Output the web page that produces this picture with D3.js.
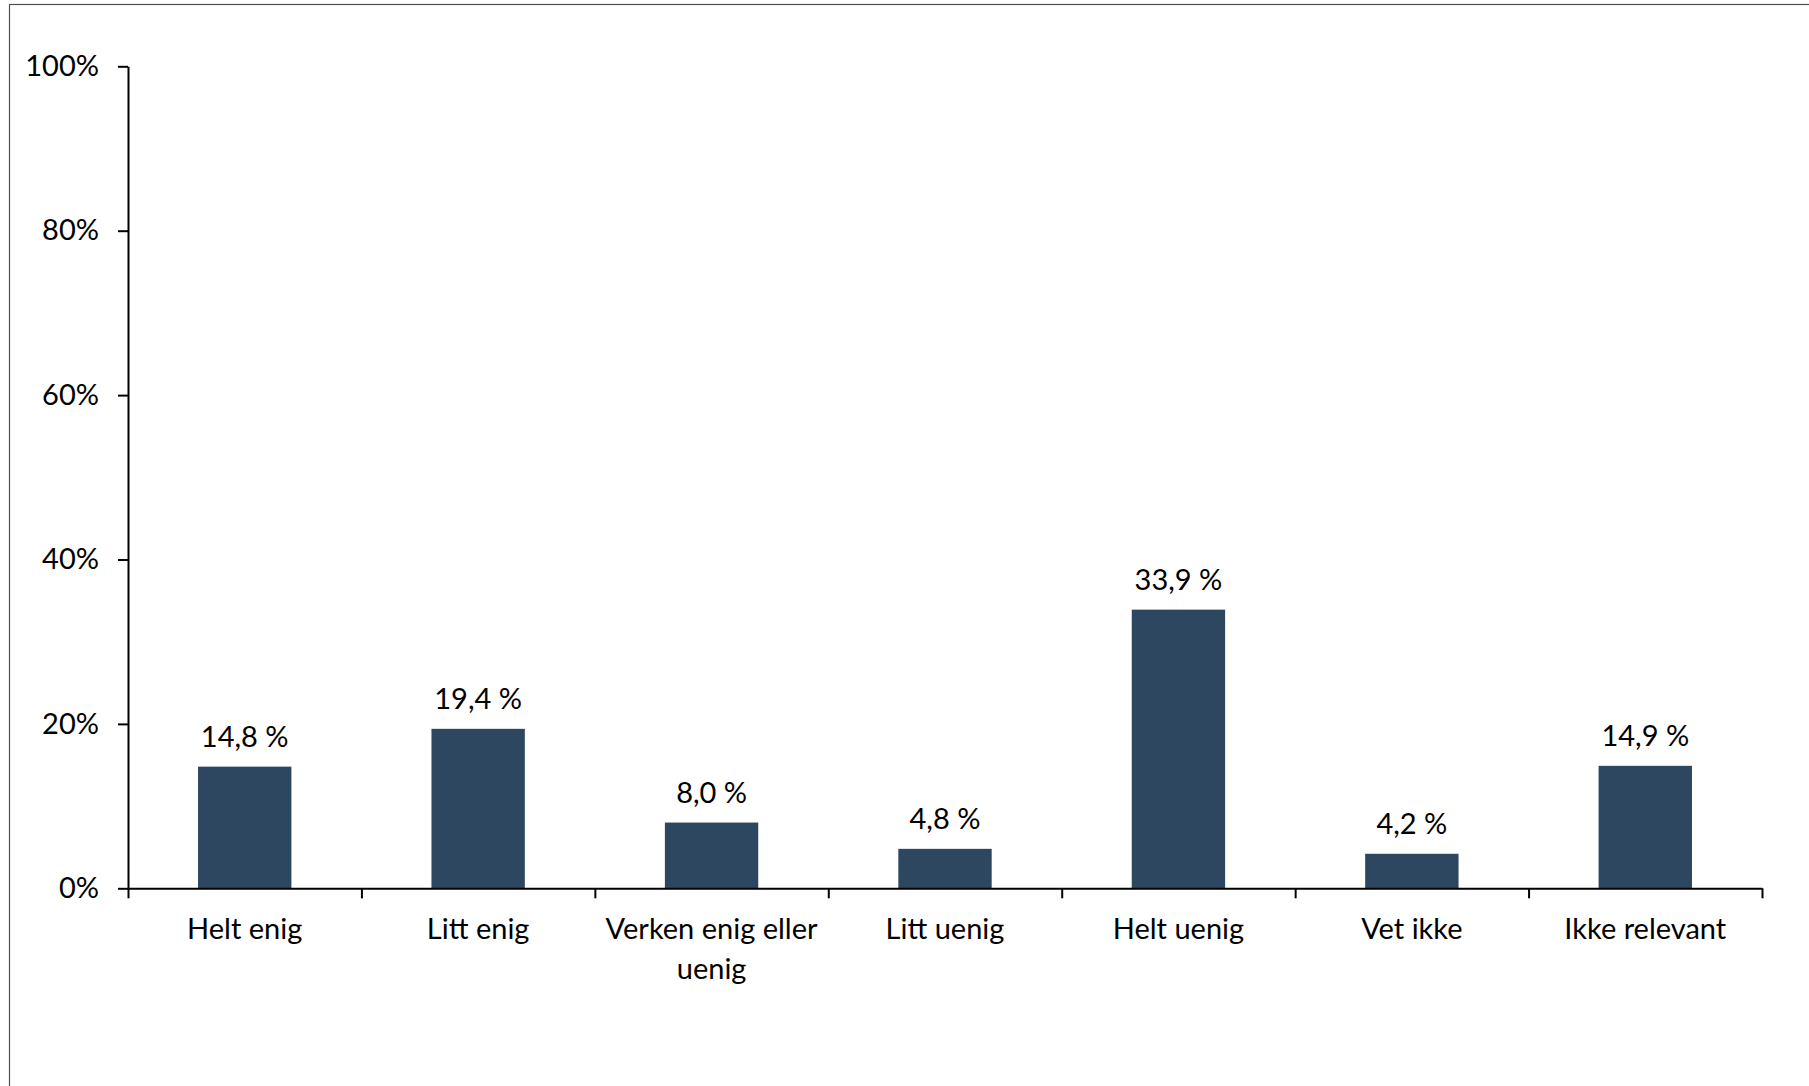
<!DOCTYPE html>
<html><head><meta charset="utf-8">
<script src="https://cdn.jsdelivr.net/npm/d3@7"></script>
<style>body{margin:0;background:#fff;} svg{display:block;}</style>
</head><body>
<svg id="chart" width="1809" height="1086"></svg>
<script>
const categories = ["Helt enig","Litt enig","Verken enig eller uenig","Litt uenig","Helt uenig","Vet ikke","Ikke relevant"];
const values = [14.8, 19.4, 8.0, 4.8, 33.9, 4.2, 14.9];
const valueLabels = ["14,8 %","19,4 %","8,0 %","4,8 %","33,9 %","4,2 %","14,9 %"];
const yTicks = [0, 20, 40, 60, 80, 100];
const yTickLabels = ["0%","20%","40%","60%","80%","100%"];

const W = 1809, H = 1086;
const plot = {left: 128, right: 1762, top: 66.3, bottom: 888.3};
const FONT = "Lato, 'Open Sans', sans-serif";
const FS = 29;
const barColor = "#2E4760";

const svg = d3.select("#chart");

// outer frame
svg.append("rect").attr("x", 9.5).attr("y", 4.5).attr("width", W + 10).attr("height", H + 10)
  .attr("fill", "none").attr("stroke", "#505050").attr("stroke-width", 1.2);

const x = d3.scaleBand().domain(categories).range([plot.left, plot.right]).paddingInner(0).paddingOuter(0);
const xi = d3.scaleLinear().domain([0, categories.length]).range([plot.left, plot.right]);
const y = d3.scaleLinear().domain([0, 100]).range([plot.bottom, plot.top]);
const bw = x.bandwidth();
const barW = bw * 0.4;

// bars
svg.append("g").selectAll("rect").data(values).join("rect")
  .attr("x", (d, i) => x(categories[i]) + (bw - barW) / 2)
  .attr("y", d => y(d))
  .attr("width", barW)
  .attr("height", d => y(0) - y(d))
  .attr("fill", barColor);

// value labels
svg.append("g").selectAll("text").data(values).join("text")
  .attr("x", (d, i) => x(categories[i]) + bw / 2)
  .attr("y", d => y(d) - 20)
  .attr("text-anchor", "middle")
  .attr("font-family", FONT).attr("font-size", FS).attr("fill", "#000")
  .text((d, i) => valueLabels[i]);

// y axis
const yAxis = svg.append("g").attr("transform", `translate(${plot.left},0)`)
  .call(d3.axisLeft(y).tickValues(yTicks).tickSize(10).tickSizeOuter(0).tickPadding(19)
    .tickFormat((d, i) => yTickLabels[i]));
yAxis.selectAll("path,line").attr("stroke", "#000").attr("stroke-width", 2);
yAxis.selectAll("text").attr("font-family", FONT).attr("font-size", FS).attr("fill", "#000");

// x axis (boundary ticks)
const xAxis = svg.append("g").attr("transform", `translate(0,${plot.bottom})`)
  .call(d3.axisBottom(xi).tickValues(d3.range(categories.length + 1)).tickSize(10).tickSizeOuter(0).tickFormat(""));
xAxis.selectAll("path,line").attr("stroke", "#000").attr("stroke-width", 2);

// category labels with wrapping
const maxW = bw * 0.95;
const measurer = svg.append("text").attr("font-family", FONT).attr("font-size", FS).attr("visibility", "hidden");
function wrap(str) {
  const words = str.split(" ");
  const lines = [];
  let cur = "";
  words.forEach(w => {
    const test = cur ? cur + " " + w : w;
    measurer.text(test);
    if (measurer.node().getComputedTextLength() > maxW && cur) { lines.push(cur); cur = w; }
    else cur = test;
  });
  if (cur) lines.push(cur);
  return lines;
}
const catG = svg.append("g");
categories.forEach(c => {
  const t = catG.append("text")
    .attr("x", x(c) + bw / 2).attr("y", plot.bottom + 51)
    .attr("text-anchor", "middle")
    .attr("font-family", FONT).attr("font-size", FS).attr("fill", "#000");
  wrap(c).forEach((ln, j) => {
    t.append("tspan").attr("x", x(c) + bw / 2).attr("dy", j === 0 ? 0 : 40).text(ln);
  });
});
measurer.remove();
</script>
</body></html>
